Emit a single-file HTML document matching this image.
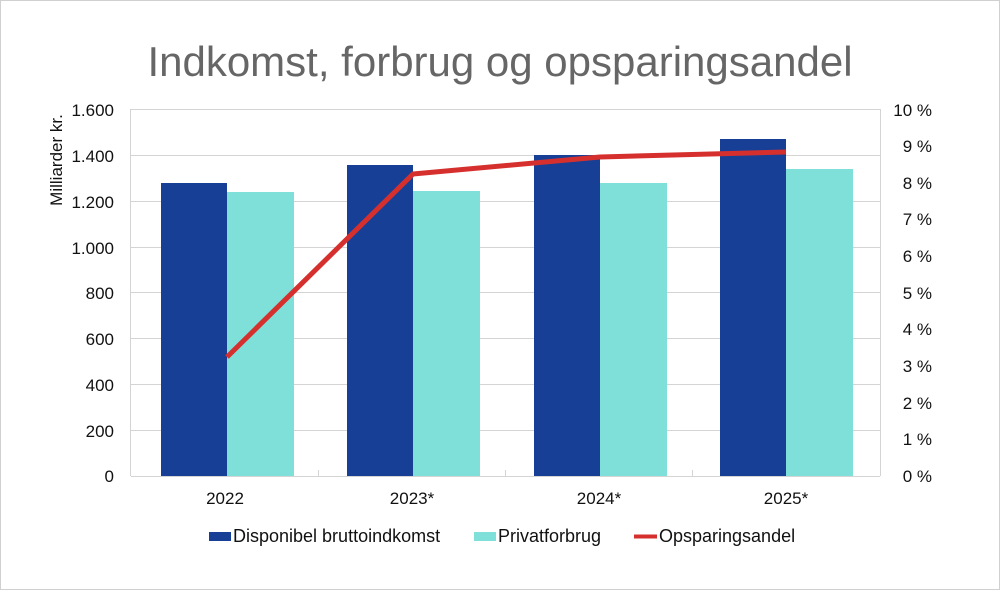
<!DOCTYPE html>
<html><head><style>
body{margin:0;background:#fff}
svg{display:block;font-family:"Liberation Sans",sans-serif}
</style></head><body>
<svg width="1000" height="590" viewBox="0 0 1000 590">
<rect x="0.5" y="0.5" width="999" height="589" fill="#fff" stroke="#d0d0d0"/>
<text x="500" y="76" font-size="42" fill="#666" text-anchor="middle">Indkomst, forbrug og opsparingsandel</text>
<g stroke="#d4d4d4" stroke-width="1">
<line x1="131" x2="880" y1="109.5" y2="109.5"/>
<line x1="131" x2="880" y1="155.5" y2="155.5"/>
<line x1="131" x2="880" y1="201.5" y2="201.5"/>
<line x1="131" x2="880" y1="247.5" y2="247.5"/>
<line x1="131" x2="880" y1="292.5" y2="292.5"/>
<line x1="131" x2="880" y1="338.5" y2="338.5"/>
<line x1="131" x2="880" y1="384.5" y2="384.5"/>
<line x1="131" x2="880" y1="430.5" y2="430.5"/>
<line x1="131" x2="880" y1="476.5" y2="476.5"/>
<line x1="130.5" x2="130.5" y1="109" y2="476"/>
<line x1="880.5" x2="880.5" y1="109" y2="476"/>
<line x1="318.5" x2="318.5" y1="470" y2="476"/>
<line x1="505.5" x2="505.5" y1="470" y2="476"/>
<line x1="692.5" x2="692.5" y1="470" y2="476"/>
</g>
<g fill="#173f95">
<rect x="161" y="183" width="66" height="293"/>
<rect x="347" y="165" width="66" height="311"/>
<rect x="534" y="155" width="66" height="321"/>
<rect x="720" y="139" width="66" height="337"/>
</g>
<g fill="#7fe0da">
<rect x="227" y="192" width="67" height="284"/>
<rect x="413" y="191" width="67" height="285"/>
<rect x="600" y="183" width="67" height="293"/>
<rect x="786" y="169" width="67" height="307"/>
</g>
<polyline points="227,357 413,174 600,157 786,152" fill="none" stroke="#d6302e" stroke-width="5" stroke-linejoin="round"/>
<g font-size="17" fill="#111" text-anchor="end">
<text x="114" y="116">1.600</text>
<text x="114" y="162">1.400</text>
<text x="114" y="208">1.200</text>
<text x="114" y="254">1.000</text>
<text x="114" y="299">800</text>
<text x="114" y="345">600</text>
<text x="114" y="391">400</text>
<text x="114" y="437">200</text>
<text x="114" y="482">0</text>
</g>
<g font-size="17" fill="#111" text-anchor="end">
<text x="932" y="116">10 %</text>
<text x="932" y="152">9 %</text>
<text x="932" y="189">8 %</text>
<text x="932" y="225">7 %</text>
<text x="932" y="262">6 %</text>
<text x="932" y="299">5 %</text>
<text x="932" y="335">4 %</text>
<text x="932" y="372">3 %</text>
<text x="932" y="409">2 %</text>
<text x="932" y="445">1 %</text>
<text x="932" y="482">0 %</text>
</g>
<text transform="translate(62,160) rotate(-90)" font-size="17" fill="#111" text-anchor="middle">Milliarder kr.</text>
<g font-size="17" fill="#111" text-anchor="middle">
<text x="225" y="504">2022</text>
<text x="412" y="504">2023*</text>
<text x="599" y="504">2024*</text>
<text x="786" y="504">2025*</text>
</g>
<rect x="209" y="532" width="22" height="9" fill="#173f95"/>
<text x="233" y="542" font-size="18" fill="#111">Disponibel bruttoindkomst</text>
<rect x="474" y="532" width="22" height="9" fill="#7fe0da"/>
<text x="498" y="542" font-size="18" fill="#111">Privatforbrug</text>
<line x1="634" x2="657" y1="536.5" y2="536.5" stroke="#d6302e" stroke-width="4"/>
<text x="659" y="542" font-size="18" fill="#111">Opsparingsandel</text>
</svg>
</body></html>
